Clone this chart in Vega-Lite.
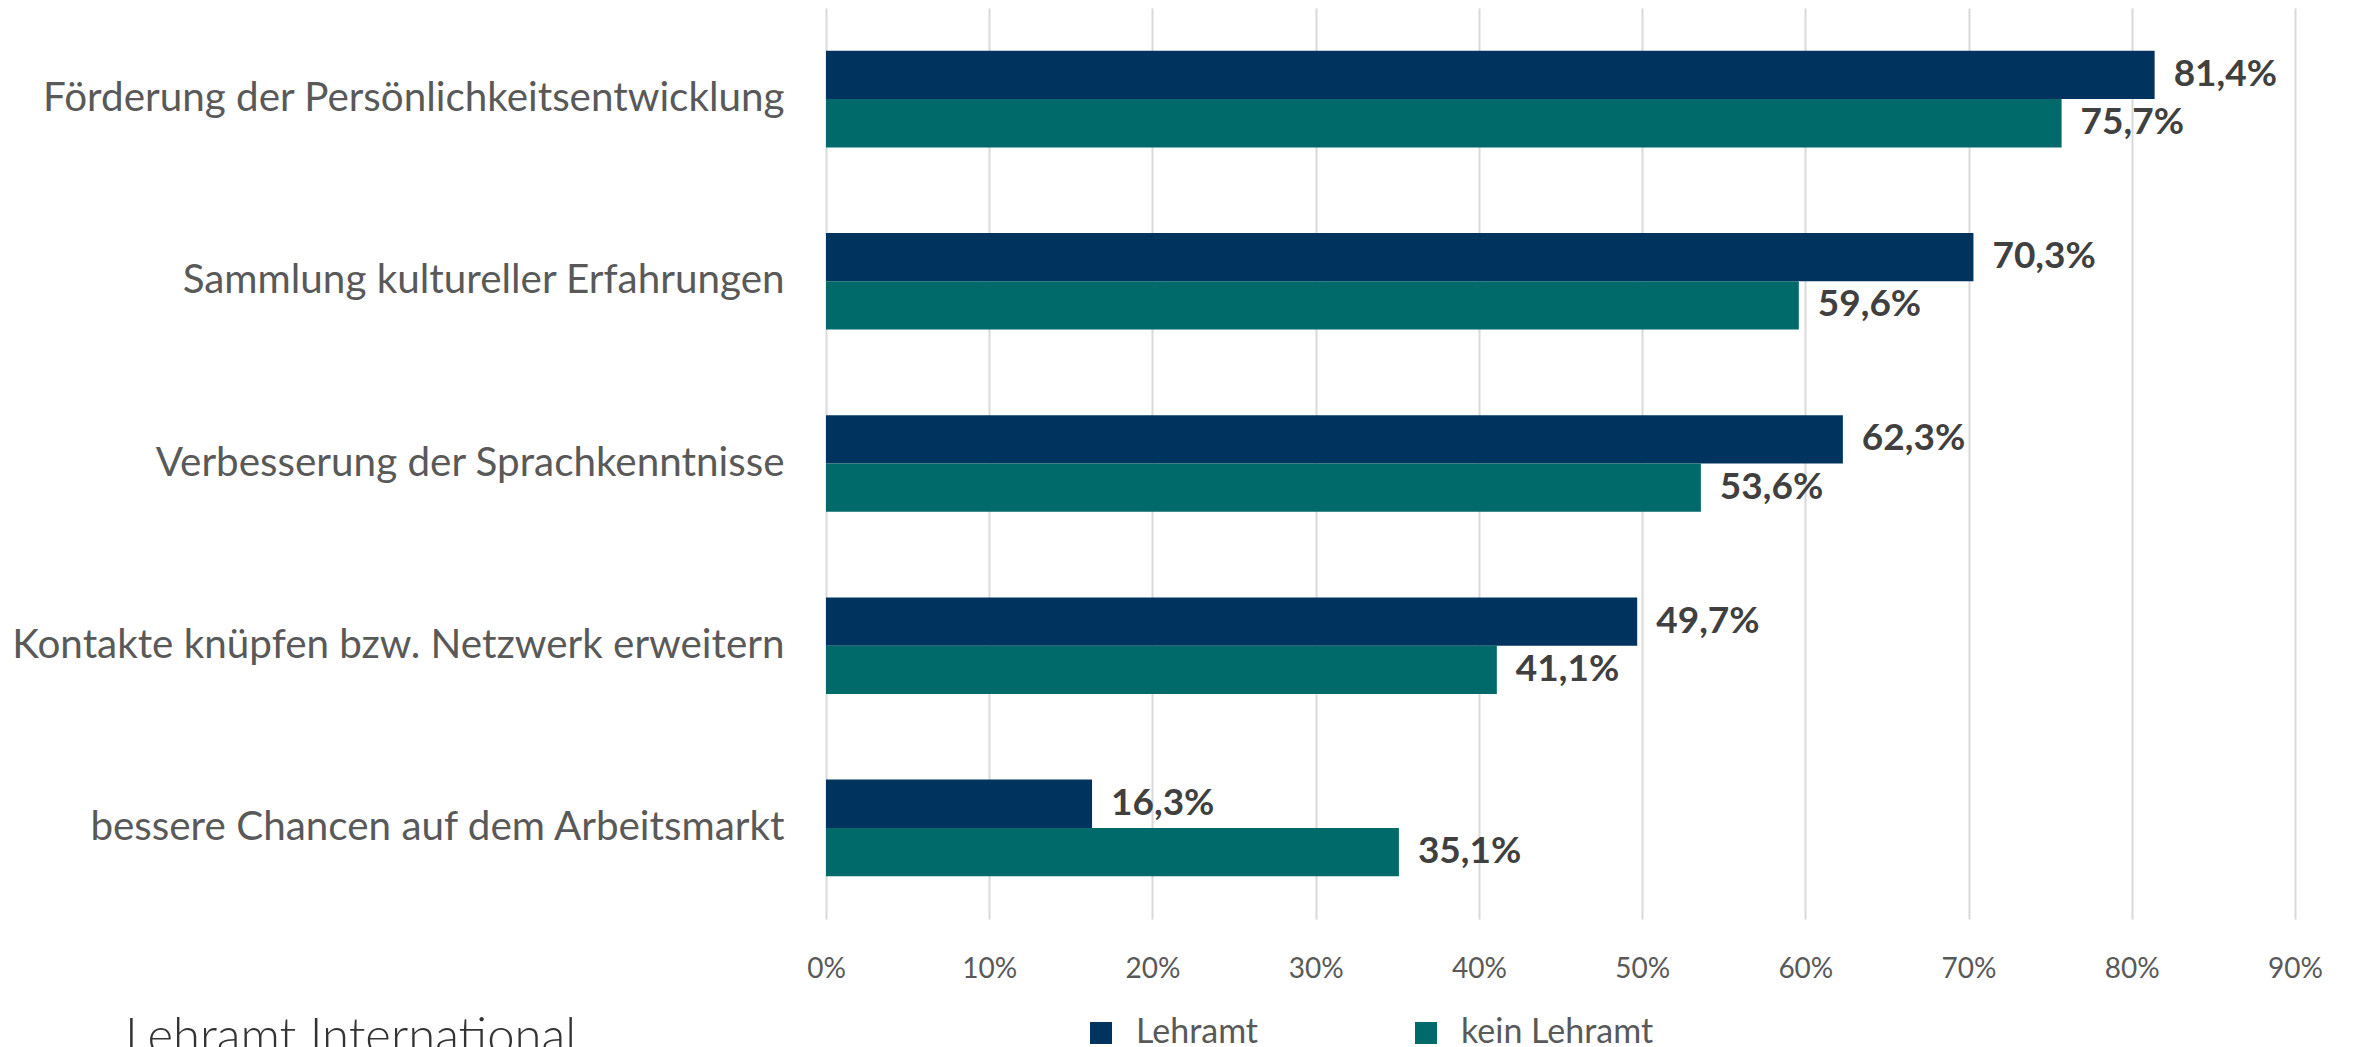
{
  "$schema": "https://vega.github.io/schema/vega-lite/v6.json",
  "autosize": {"type": "none"},
  "width": 1469,
  "height": 911,
  "padding": {"left": 826, "top": 8, "right": 59, "bottom": 128},
  "background": "white",
  "title": {
    "text": "Lehramt International",
    "orient": "bottom",
    "anchor": "start",
    "frame": "group",
    "font": "Lato",
    "fontWeight": 300,
    "fontSize": 49,
    "color": "#333333",
    "dx": -701,
    "offset": -36,
    "baseline": "top"
  },
  "config": {
    "locale": {"number": {"decimal": ",", "thousands": ".", "grouping": [3], "currency": ["", " €"]}},
    "view": {"stroke": null},
    "font": "Lato"
  },
  "data": {
    "values": [
      {"kategorie": "Förderung der Persönlichkeitsentwicklung", "gruppe": "Lehramt", "wert": 0.814},
      {"kategorie": "Förderung der Persönlichkeitsentwicklung", "gruppe": "kein Lehramt", "wert": 0.757},
      {"kategorie": "Sammlung kultureller Erfahrungen", "gruppe": "Lehramt", "wert": 0.703},
      {"kategorie": "Sammlung kultureller Erfahrungen", "gruppe": "kein Lehramt", "wert": 0.596},
      {"kategorie": "Verbesserung der Sprachkenntnisse", "gruppe": "Lehramt", "wert": 0.623},
      {"kategorie": "Verbesserung der Sprachkenntnisse", "gruppe": "kein Lehramt", "wert": 0.536},
      {"kategorie": "Kontakte knüpfen bzw. Netzwerk erweitern", "gruppe": "Lehramt", "wert": 0.497},
      {"kategorie": "Kontakte knüpfen bzw. Netzwerk erweitern", "gruppe": "kein Lehramt", "wert": 0.411},
      {"kategorie": "bessere Chancen auf dem Arbeitsmarkt", "gruppe": "Lehramt", "wert": 0.163},
      {"kategorie": "bessere Chancen auf dem Arbeitsmarkt", "gruppe": "kein Lehramt", "wert": 0.351}
    ]
  },
  "encoding": {
    "y": {
      "field": "kategorie",
      "type": "nominal",
      "sort": null,
      "scale": {"paddingInner": 0.47, "paddingOuter": 0.235},
      "axis": {
        "title": null,
        "domain": false,
        "ticks": false,
        "labelFont": "Lato",
        "labelFontSize": 40.4,
        "labelColor": "#595959",
        "labelPadding": 42,
        "labelLimit": 900
      }
    },
    "yOffset": {
      "field": "gruppe",
      "type": "nominal",
      "sort": ["Lehramt", "kein Lehramt"],
      "scale": {"paddingInner": 0, "paddingOuter": 0}
    },
    "x": {
      "field": "wert",
      "type": "quantitative",
      "scale": {"domain": [0, 0.9], "nice": false},
      "axis": {
        "title": null,
        "format": ".0%",
        "values": [0, 0.1, 0.2, 0.3, 0.4, 0.5, 0.6, 0.7, 0.8, 0.9],
        "domain": false,
        "ticks": false,
        "grid": true,
        "gridColor": "#d9d9d9",
        "gridWidth": 2,
        "labelFont": "Lato",
        "labelFontSize": 28,
        "labelColor": "#595959",
        "labelPadding": 36,
        "labelFlush": false
      }
    }
  },
  "layer": [
    {
      "mark": {"type": "bar"},
      "encoding": {
        "color": {
          "field": "gruppe",
          "type": "nominal",
          "sort": ["Lehramt", "kein Lehramt"],
          "scale": {"domain": ["Lehramt", "kein Lehramt"], "range": ["#00345f", "#006969"]},
          "legend": {
            "title": null,
            "orient": "none",
            "direction": "horizontal",
            "legendX": 258,
            "legendY": 1008,
            "symbolType": "square",
            "symbolSize": 484,
            "symbolStrokeWidth": 0,
            "labelFont": "Lato",
            "labelFontSize": 34,
            "labelColor": "#595959",
            "labelOffset": 18,
            "columnPadding": 150,
            "labelLimit": 400
          }
        }
      }
    },
    {
      "mark": {"type": "text", "align": "left", "baseline": "middle", "dx": 19, "font": "Lato", "fontWeight": "bold", "fontSize": 37, "color": "#404040"},
      "encoding": {
        "text": {"field": "wert", "type": "quantitative", "format": ".1%"}
      }
    }
  ]
}
